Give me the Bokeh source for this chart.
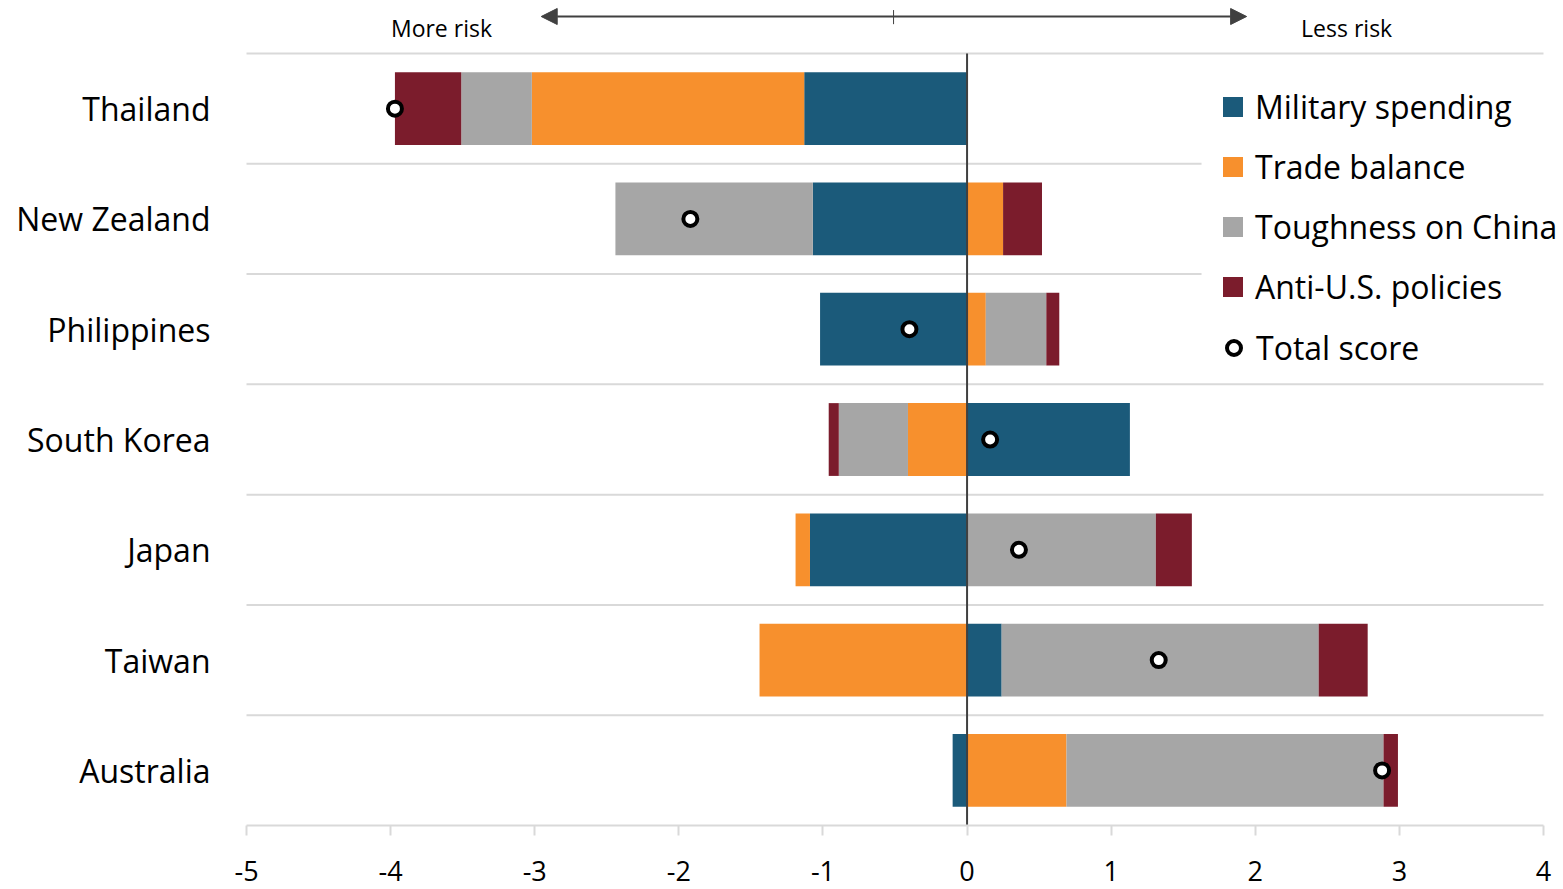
import numpy as np
from bokeh.plotting import figure
from bokeh.models import (FixedTicker, Legend, LegendItem, Arrow, NormalHead,
                          Label, Range1d)
from bokeh.embed import file_html
from bokeh.resources import INLINE

# ---------------- data ----------------
countries = ["Thailand", "New Zealand", "Philippines", "South Korea",
             "Japan", "Taiwan", "Australia"]
military = [-1.13, -1.07, -1.02, 1.13, -1.09, 0.24, -0.10]
trade = [-1.89, 0.25, 0.13, -0.41, -0.10, -1.44, 0.69]
toughness = [-0.49, -1.37, 0.42, -0.48, 1.31, 2.20, 2.20]
anti_us = [-0.46, 0.27, 0.09, -0.07, 0.25, 0.34, 0.10]
total = [-3.97, -1.92, -0.40, 0.16, 0.36, 1.33, 2.88]
series_names = ["Military spending", "Trade balance", "Toughness on China",
                "Anti-U.S. policies"]
total_name = "Total score"
x_ticks = [-5, -4, -3, -2, -1, 0, 1, 2, 3, 4]
left_label = "More risk"
right_label = "Less risk"

colors = ["#1B5A7A", "#F7902D", "#A6A6A6", "#7B1C2C"]
FONT = "Open Sans"
GRID = "#D9D9D9"
DARK = "#404040"

n = len(countries)
ypos = np.arange(n - 1, -1, -1, dtype=float)   # Thailand at top

p = figure(width=1563, height=889, output_backend="svg", toolbar_location=None,
           x_range=Range1d(-5.1388, 4.1388), y_range=Range1d(-1.0800, 6.9806),
           min_border_left=226, min_border_right=0, min_border_top=0,
           min_border_bottom=0)
p.outline_line_color = None
p.xgrid.visible = False
p.ygrid.visible = False
p.background_fill_color = "white"

# gridlines between categories (two are hidden behind the legend)
legend_edge = 1.627
full_lines = [6.5, 3.5, 2.5, 1.5, 0.5]
part_lines = [5.5, 4.5]
p.segment(x0=[-5] * len(full_lines), x1=[4] * len(full_lines),
          y0=full_lines, y1=full_lines, line_color=GRID, line_width=2)
p.segment(x0=[-5] * len(part_lines), x1=[legend_edge] * len(part_lines),
          y0=part_lines, y1=part_lines, line_color=GRID, line_width=2)

# stacked bars
pos_base = np.zeros(n)
neg_base = np.zeros(n)
bar_renderers = []
for vals, col in zip([military, trade, toughness, anti_us], colors):
    v = np.array(vals, dtype=float)
    left = np.where(v >= 0, pos_base, neg_base + v)
    right = np.where(v >= 0, pos_base + v, neg_base)
    pos_base = pos_base + np.where(v >= 0, v, 0)
    neg_base = neg_base + np.where(v < 0, v, 0)
    r = p.hbar(y=ypos, left=left, right=right, height=0.66,
               fill_color=col, line_color=None)
    bar_renderers.append(r)

# zero line
p.segment(x0=[0], x1=[0], y0=[-0.5], y1=[6.5], line_color=DARK, line_width=2)

# total score markers
dots = p.scatter(x=total, y=ypos, marker="circle", size=14,
                 fill_color="white", line_color="black", line_width=4)

# axes
p.xaxis.fixed_location = -0.5
p.xaxis.bounds = (-5, 4)
p.xaxis.ticker = FixedTicker(ticks=x_ticks)
p.xaxis.major_label_overrides = {t: str(t) for t in x_ticks}
p.xaxis.axis_line_color = GRID
p.xaxis.axis_line_width = 2
p.xaxis.major_tick_line_color = GRID
p.xaxis.major_tick_line_width = 2
p.xaxis.major_tick_out = 10
p.xaxis.major_tick_in = 0
p.xaxis.minor_tick_line_color = None
p.xaxis.major_label_text_font = FONT
p.xaxis.major_label_text_font_size = "27px"
p.xaxis.major_label_text_color = "black"
p.xaxis.major_label_standoff = 25

p.yaxis.ticker = FixedTicker(ticks=list(ypos))
p.yaxis.major_label_overrides = {float(yv): c for yv, c in zip(ypos, countries)}
p.yaxis.axis_line_color = None
p.yaxis.major_tick_line_color = None
p.yaxis.minor_tick_line_color = None
p.yaxis.major_label_text_font = FONT
p.yaxis.major_label_text_font_size = "32px"
p.yaxis.major_label_text_color = "black"
p.yaxis.major_label_standoff = 10

# top "risk" arrow
head = dict(size=16, fill_color=DARK, line_color=DARK)
p.add_layout(Arrow(start=NormalHead(**head), end=NormalHead(**head),
                   x_start=-2.955, x_end=1.94, y_start=6.8355, y_end=6.8355,
                   line_color=DARK, line_width=2))
p.segment(x0=[-0.51], x1=[-0.51], y0=[6.766], y1=[6.894],
          line_color=DARK, line_width=1)
for txt, xx in [(left_label, -3.647), (right_label, 2.634)]:
    p.add_layout(Label(x=xx, y=6.7357, text=txt, text_align="center",
                       text_baseline="middle", text_font=FONT,
                       text_font_size="23px", text_color="black"))

# legends (frame spans the full canvas height of 889 px)
leg1 = Legend(items=[LegendItem(label=nm, renderers=[r])
                     for nm, r in zip(series_names, bar_renderers)],
              location=(994, 573), glyph_width=25, glyph_height=25,
              label_height=60, spacing=0, padding=0, margin=0,
              label_standoff=10, label_text_font=FONT,
              label_text_font_size="32px", label_text_color="black",
              background_fill_alpha=0, border_line_color=None)
leg2 = Legend(items=[LegendItem(label=total_name, renderers=[dots])],
              location=(990, 512), glyph_width=35, glyph_height=35,
              label_height=60, spacing=0, padding=0, margin=0,
              label_standoff=5, label_text_font=FONT,
              label_text_font_size="32px", label_text_color="black",
              background_fill_alpha=0, border_line_color=None)
p.add_layout(leg1)
p.add_layout(leg2)

open("out.html", "w").write(file_html(p, INLINE))
